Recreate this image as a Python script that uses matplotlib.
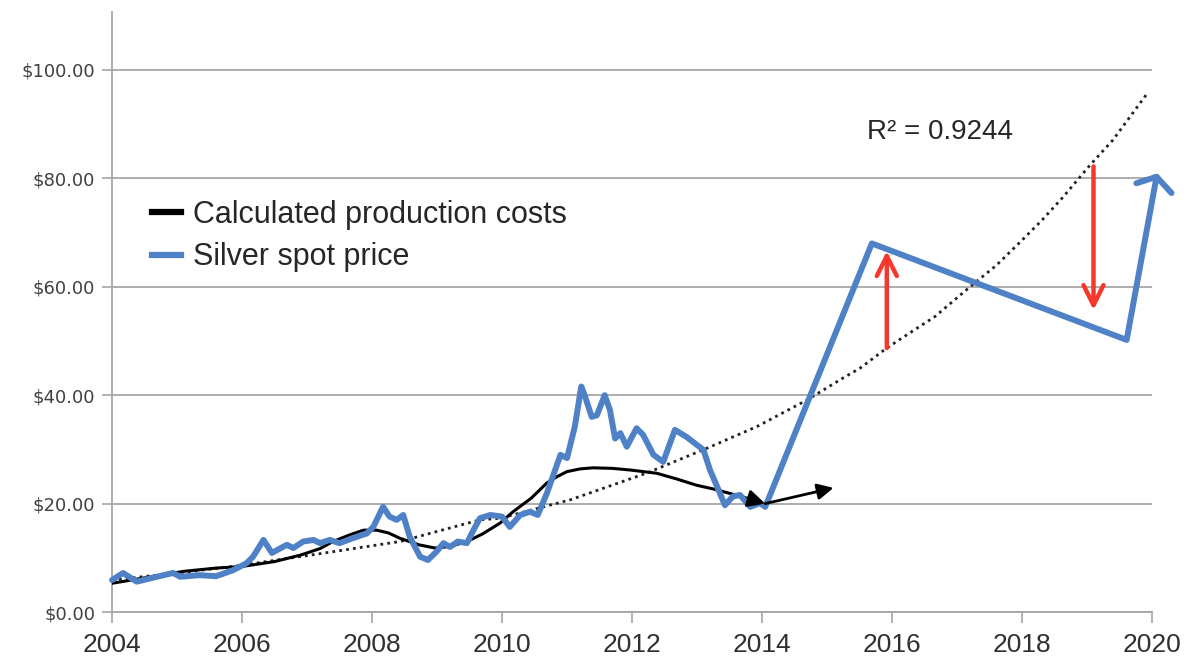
import matplotlib
matplotlib.use("Agg")
import matplotlib.pyplot as plt
from matplotlib.lines import Line2D

# ---- data ----
spot_years = [2004.0, 2004.17, 2004.38, 2004.69, 2004.94, 2005.05, 2005.35, 2005.6, 2005.86,
              2006.07, 2006.17, 2006.33, 2006.46, 2006.69, 2006.79, 2006.94, 2007.1, 2007.2,
              2007.35, 2007.5, 2007.7, 2007.92, 2008.02, 2008.17, 2008.27, 2008.38, 2008.48,
              2008.58, 2008.74, 2008.86, 2008.99, 2009.1, 2009.2, 2009.32, 2009.46, 2009.56,
              2009.66, 2009.82, 2010.0, 2010.12, 2010.28, 2010.43, 2010.55, 2010.69, 2010.9,
              2011.0, 2011.12, 2011.22, 2011.28, 2011.38, 2011.46, 2011.58, 2011.66, 2011.74,
              2011.82, 2011.92, 2012.07, 2012.17, 2012.33, 2012.48, 2012.66, 2012.84, 2013.1,
              2013.2, 2013.3, 2013.43, 2013.55, 2013.66, 2013.82, 2013.97, 2014.05,
              2015.69, 2019.61, 2020.07]
spot_price = [5.9, 7.2, 5.6, 6.5, 7.2, 6.5, 6.8, 6.6, 7.7,
              9.0, 10.2, 13.3, 10.9, 12.4, 11.8, 13.0, 13.3, 12.7,
              13.3, 12.7, 13.6, 14.5, 15.7, 19.4, 17.6, 17.0, 17.9,
              13.9, 10.2, 9.6, 11.1, 12.7, 12.0, 13.0, 12.7, 15.1,
              17.3, 17.9, 17.6, 15.7, 17.9, 18.5, 17.9, 21.9, 29.0,
              28.4, 34.2, 41.6, 39.7, 36.0, 36.3, 40.0, 37.3, 32.0,
              33.0, 30.5, 33.9, 32.7, 29.0, 27.7, 33.6, 32.3, 29.9,
              26.2, 23.4, 19.7, 21.3, 21.6, 19.4, 20.1, 19.4,
              68.0, 50.2, 80.3]
chevron_years = [2019.76, 2020.07, 2020.3]
chevron_price = [79.1, 80.3, 77.3]

cost_years = [2004.0, 2004.6, 2005.1, 2005.6, 2006.0, 2006.5, 2006.9, 2007.2, 2007.4, 2007.65,
              2007.87, 2008.07, 2008.25, 2008.43, 2008.72, 2008.97, 2009.2, 2009.46, 2009.7,
              2009.97, 2010.17, 2010.45, 2010.69, 2010.85, 2011.0, 2011.2, 2011.4, 2011.7,
              2011.97, 2012.38, 2012.7, 2012.99, 2013.25, 2013.5, 2013.8]
cost_value = [5.3, 6.5, 7.5, 8.1, 8.4, 9.3, 10.5, 11.7, 13.0, 14.2,
              15.1, 15.1, 14.6, 13.6, 12.4, 11.8, 12.1, 13.0, 14.4,
              16.4, 18.5, 21.0, 23.8, 25.0, 25.9, 26.4, 26.6, 26.5,
              26.2, 25.6, 24.5, 23.4, 22.7, 21.9, 20.9]
cost_arrow_end = (2014.05, 20.0)
cost_next = (2015.1, 22.9)

trend_years = [2004.0, 2005.0, 2005.86, 2007.0, 2008.43, 2009.66, 2009.97, 2011.05, 2012.22,
               2013.15, 2013.92, 2014.69, 2015.25, 2015.51, 2015.92, 2016.3, 2016.66, 2017.2,
               2017.6, 2017.95, 2018.3, 2018.62, 2019.05, 2019.4, 2019.94]
trend_value = [5.9, 7.2, 8.4, 10.4, 13.0, 17.0, 17.3, 20.7, 25.6,
               30.2, 34.2, 39.1, 43.2, 45.0, 48.7, 51.7, 54.5, 60.0,
               63.9, 68.0, 72.2, 76.4, 82.5, 87.1, 95.9]

red_up = ((2015.92, 48.7), (2015.92, 66.6))
red_down = ((2019.1, 82.2), (2019.1, 55.7))

y_ticks = [0, 20, 40, 60, 80, 100]
y_labels = ["$0.00", "$20.00", "$40.00", "$60.00", "$80.00", "$100.00"]
x_ticks = [2004, 2006, 2008, 2010, 2012, 2014, 2016, 2018, 2020]
x_labels = [str(v) for v in x_ticks]

r2_text = "R² = 0.9244"
legend_labels = ["Calculated production costs", "Silver spot price"]

# ---- styling ----
BLUE = "#4f81c7"
RED = "#f5372c"
GRID = "#a6a6a6"

fig = plt.figure(figsize=(11.9, 6.69), dpi=100)
ax = fig.add_axes([112 / 1190, 57 / 669, (1152 - 112) / 1190, (612 - 12) / 669])
ax.set_xlim(2004, 2020)
ax.set_ylim(0, 110.7)

for s in ["top", "right"]:
    ax.spines[s].set_visible(False)
for s in ["left", "bottom"]:
    ax.spines[s].set_color(GRID)
    ax.spines[s].set_linewidth(1.3)

ax.set_yticks(y_ticks)
ax.set_yticklabels(y_labels, fontsize=13, color="#404040", family=["DejaVu Sans"])
ax.set_xticks(x_ticks)
ax.set_xticklabels(x_labels, fontsize=19, color="#303030",
                   family=["Liberation Sans Narrow", "Liberation Sans", "DejaVu Sans"])
ax.tick_params(axis="y", length=7, color=GRID, width=1.2, pad=5)
ax.tick_params(axis="x", length=8, color=GRID, width=1.2, pad=7)
ax.yaxis.grid(True, color=GRID, linewidth=1.3)
ax.set_axisbelow(True)

# trend line
ax.plot(trend_years, trend_value, linestyle=(0, (1, 1.5)), color="#222222", linewidth=2.0,
        zorder=3, clip_on=False)

# production costs
ax.plot(cost_years, cost_value, color="black", linewidth=2.2, zorder=4,
        solid_capstyle="round", solid_joinstyle="round")
ax.annotate("", xy=cost_arrow_end, xytext=(cost_years[-1], cost_value[-1]),
            arrowprops=dict(arrowstyle="-|>", color="black", lw=2.0, mutation_scale=26,
                            shrinkA=0, shrinkB=0), zorder=6)
ax.annotate("", xy=cost_next, xytext=cost_arrow_end,
            arrowprops=dict(arrowstyle="-|>", color="black", lw=2.0, mutation_scale=24,
                            shrinkA=0, shrinkB=0), zorder=6)

# spot price
ax.plot(spot_years, spot_price, color=BLUE, linewidth=4.3, zorder=5,
        solid_capstyle="round", solid_joinstyle="round", clip_on=False)
ax.plot(chevron_years, chevron_price, color=BLUE, linewidth=4.3, zorder=5,
        solid_capstyle="round", solid_joinstyle="round", clip_on=False)

# red arrows
for (start, end) in [red_up, red_down]:
    ax.annotate("", xy=end, xytext=start,
                arrowprops=dict(arrowstyle="->", color=RED, lw=3.2, mutation_scale=36,
                                shrinkA=0, shrinkB=0), zorder=7)

# R^2 text
ax.text(2015.62, 88.5, r2_text, fontsize=20, color="#262626",
        family=["Liberation Sans", "DejaVu Sans"], va="center", ha="left")

# legend
handles = [Line2D([], [], color="black", linewidth=4.5),
           Line2D([], [], color=BLUE, linewidth=4.5)]
leg = ax.legend(handles, legend_labels, loc="center left",
                bbox_to_anchor=((152 - 112) / 1040, (612 - 236) / 600),
                frameon=False, handlelength=0.95, handletextpad=0.4,
                borderaxespad=0, borderpad=0, labelspacing=0.42,
                prop=dict(family=["Liberation Sans", "DejaVu Sans"], size=22))
for t in leg.get_texts():
    t.set_color("#262626")

fig.savefig("out.png", dpi=100)
